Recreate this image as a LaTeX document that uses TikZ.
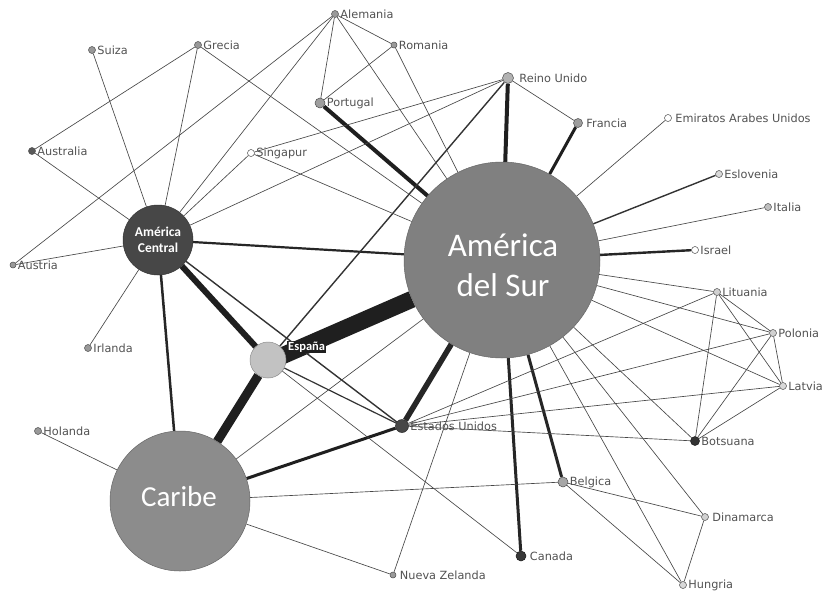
\documentclass[tikz,border=0pt]{standalone}
\usepackage{fontspec}
\newfontfamily\lblfont{DejaVu Sans}
\newfontfamily\bigfont{Carlito}
\pgfdeclarelayer{bg}
\pgfsetlayers{bg,main}
\begin{document}
\begin{tikzpicture}[x=1pt,y=-1pt,
  dot/.style={circle,inner sep=0pt,minimum size=7pt,draw=black!70,line width=0.5pt,fill=black!40},
  lbl/.style={anchor=west,inner sep=1.5pt,font=\lblfont\fontsize{11.3}{13}\selectfont,text=black!68},
  ln/.style={draw=black!72,line width=0.65pt},
  big/.style={circle,inner sep=0pt,draw=black!60,line width=0.5pt},
]
\useasboundingbox (0,0) rectangle (823,595);
% big nodes
\node[big,fill=black!50,minimum size=196pt] (ads) at (502,260) {};
\node[big,fill=black!45,minimum size=140pt] (car) at (180,501) {};
\node[big,fill=black!72,draw=black!80,minimum size=70pt] (ac) at (158,240) {};
\node[big,fill=black!24,draw=black!45,minimum size=36pt] (esp) at (268,360) {};
\node[dot,fill=black!72,draw=black!85,minimum size=13pt] (eu) at (402,426) {};
% small nodes
\node[dot] (ale) at (335,14) {};
\node[dot] (sui) at (92,50) {};
\node[dot] (gre) at (198,45) {};
\node[dot,minimum size=6pt] (rom) at (394,45) {};
\node[dot,fill=black!30,minimum size=11pt] (ru) at (508,78) {};
\node[dot,fill=black!38,minimum size=10pt] (por) at (320,103) {};
\node[dot,fill=black!38,minimum size=9pt] (fra) at (578,123) {};
\node[dot,fill=white] (emi) at (668,118) {};
\node[dot,fill=white] (sin) at (251,153) {};
\node[dot,fill=black!65] (aus) at (32,151) {};
\node[dot,fill=black!15] (esl) at (719,174) {};
\node[dot,fill=black!25] (ita) at (768,207) {};
\node[dot,fill=white] (isr) at (695,250) {};
\node[dot,minimum size=6pt] (ast) at (13,265) {};
\node[dot] (irl) at (88,348) {};
\node[dot] (hol) at (38,431) {};
\node[dot,fill=black!18] (lit) at (717,292) {};
\node[dot,fill=black!18] (pol) at (773,333) {};
\node[dot,fill=black!15] (lat) at (783,386) {};
\node[dot,fill=black!80,draw=black!90,minimum size=9pt] (bot) at (695,441) {};
\node[dot,fill=black!35,minimum size=10pt] (bel) at (563,482) {};
\node[dot,fill=black!18] (din) at (705,517) {};
\node[dot,fill=black!78,draw=black!90,minimum size=10pt] (can) at (521,556) {};
\node[dot,minimum size=6pt] (nz) at (393,575) {};
\node[dot,fill=black!15] (hun) at (683,585) {};
% labels
\node[lbl] (ale-t) at (ale.east) {Alemania};
\node[lbl] (sui-t) at (sui.east) {Suiza};
\node[lbl] (gre-t) at (gre.east) {Grecia};
\node[lbl] (rom-t) at (rom.east) {Romania};
\node[lbl,xshift=4pt] (ru-t) at (ru.east) {Reino Unido};
\node[lbl] (por-t) at (por.east) {Portugal};
\node[lbl,xshift=2pt] (fra-t) at (fra.east) {Francia};
\node[lbl,xshift=2pt] (emi-t) at (emi.east) {Emiratos Arabes Unidos};
\node[lbl] (sin-t) at (sin.east) {Singapur};
\node[lbl] (aus-t) at (aus.east) {Australia};
\node[lbl] (esl-t) at (esl.east) {Eslovenia};
\node[lbl] (ita-t) at (ita.east) {Italia};
\node[lbl] (isr-t) at (isr.east) {Israel};
\node[lbl] (ast-t) at (ast.east) {Austria};
\node[lbl] (irl-t) at (irl.east) {Irlanda};
\node[lbl] (hol-t) at (hol.east) {Holanda};
\node[lbl] (lit-t) at (lit.east) {Lituania};
\node[lbl] (pol-t) at (pol.east) {Polonia};
\node[lbl] (lat-t) at (lat.east) {Latvia};
\node[lbl] (bot-t) at (bot.east) {Botsuana};
\node[lbl] (bel-t) at (bel.east) {Belgica};
\node[lbl,xshift=2pt] (din-t) at (din.east) {Dinamarca};
\node[lbl,xshift=2pt] (can-t) at (can.east) {Canada};
\node[lbl,xshift=2pt] (nz-t) at (nz.east) {Nueva Zelanda};
\node[lbl] (hun-t) at (hun.east) {Hungria};
\node[lbl] (eu-t) at (eu.east) {Estados Unidos};
% big labels
\node[text=white,align=center,font=\bigfont\fontsize{33}{40}\selectfont] (ads-t) at (503,265) {América\\del Sur};
\node[text=white,font=\bigfont\fontsize{29}{34}\selectfont] (car-t) at (179,497) {Caribe};
\node[text=white,align=center,font=\bigfont\bfseries\fontsize{13.5}{16.5}\selectfont] (ac-t) at (158,240) {América\\Central};
\node[text=white,fill=black!88,anchor=west,inner sep=1pt,font=\bigfont\bfseries\fontsize{12.5}{14}\selectfont] (esp-t) at (287,347) {España};
\begin{pgfonlayer}{bg}
\fill[white] (0,0) rectangle (823,595);
% thick edges
\draw[draw=black!88,line width=17pt] ([yshift=-2pt]esp.center) -- (ads);
\draw[draw=black!88,line width=9pt] (esp) -- (car);
\draw[draw=black!88,line width=6pt] (esp) -- (ac);
\draw[draw=black!85,line width=5.5pt] (eu) -- (ads);
\draw[draw=black!88,line width=4pt] (por) -- (ads);
\draw[draw=black!88,line width=4pt] (ru) -- (ads);
\draw[draw=black!88,line width=3pt] (fra) -- (ads);
\draw[draw=black!85,line width=3pt] (can) -- (ads);
\draw[draw=black!85,line width=3pt] (bel) -- (ads);
\draw[draw=black!88,line width=3pt] (car) -- (eu);
\draw[draw=black!85,line width=2.5pt] (ac) -- (car);
\draw[draw=black!85,line width=2.2pt] (ac) -- (ads);
\draw[draw=black!85,line width=2.4pt] (isr) -- (ads);
\draw[draw=black!80,line width=1.4pt] (esl) -- (ads);
\draw[draw=black!80,line width=1.4pt] (ac) -- (eu);
\draw[draw=black!80,line width=1.4pt] (ru) -- (esp);
\draw[draw=black!80,line width=1.2pt] (esp) -- (eu);
% thin edges
\draw[ln] (ale) -- (rom);
\draw[ln] (ale) -- (por);
\draw[ln] (ale) -- (ads);
\draw[ln] (ale) -- (ac);
\draw[ln] (ale) -- (ast);
\draw[ln] (rom) -- (por);
\draw[ln] (rom) -- (ads);
\draw[ln] (sui) -- (ac);
\draw[ln] (gre) -- (aus);
\draw[ln] (gre) -- (ac);
\draw[ln] (gre) -- (ads);
\draw[ln] (aus) -- (ac);
\draw[ln] (ast) -- (ac);
\draw[ln] (irl) -- (ac);
\draw[ln] (sin) -- (ac);
\draw[ln] (sin) -- (ads);
\draw[ln] (ru) -- (sin);
\draw[ln] (ru) -- (ac);
\draw[ln] (ru) -- (fra);
\draw[ln] (emi) -- (ads);
\draw[ln] (ita) -- (ads);
\draw[ln] (lit) -- (ads);
\draw[ln] (pol) -- (ads);
\draw[ln] (lat) -- (ads);
\draw[ln] (bot) -- (ads);
\draw[ln] (lit) -- (pol);
\draw[ln] (lit) -- (lat);
\draw[ln] (lit) -- (bot);
\draw[ln] (pol) -- (lat);
\draw[ln] (pol) -- (bot);
\draw[ln] (lat) -- (bot);
\draw[ln] (lit) -- (eu);
\draw[ln] (pol) -- (eu);
\draw[ln] (lat) -- (eu);
\draw[ln] (bot) -- (eu);
\draw[ln] (hun) -- (ads);
\draw[ln] (din) -- (ads);
\draw[ln] (bel) -- (din);
\draw[ln] (bel) -- (hun);
\draw[ln] (din) -- (hun);
\draw[ln] (nz) -- (ads);
\draw[ln] (nz) -- (car);
\draw[ln] (car) -- (bel);
\draw[ln] (car) -- (ads);
\draw[ln] (car) -- (hol);
\draw[ln] (esp) -- (can);
\end{pgfonlayer}
\end{tikzpicture}
\end{document}
